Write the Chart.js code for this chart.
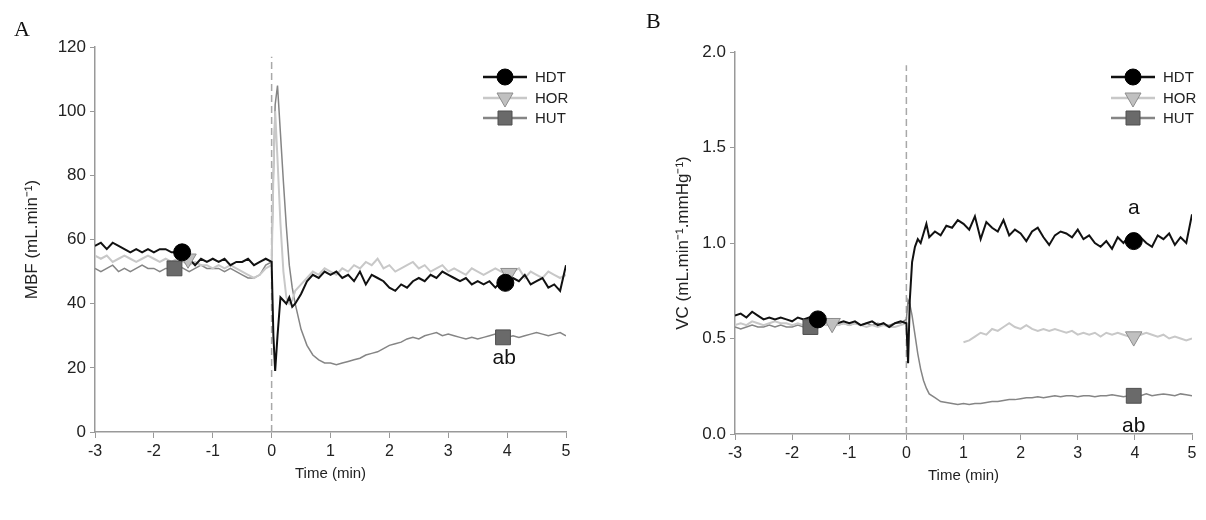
<!DOCTYPE html>
<html>
<head>
<meta charset="utf-8">
<script src="https://cdn.jsdelivr.net/npm/chart.js@4.4.1/dist/chart.umd.min.js"></script>
<style>
body{margin:0;background:#fff;width:1206px;height:520px;position:relative;overflow:hidden;font-family:"Liberation Sans",Arial,sans-serif}
.box{position:absolute;top:0;width:603px;height:520px}
.tag{position:absolute;font-family:"Liberation Serif","Times New Roman",serif;font-size:22px;color:#111}
</style>
</head>
<body>
<div class="box" style="left:0"><canvas id="panelA" width="603" height="520"></canvas></div>
<div class="box" style="left:603px"><canvas id="panelB" width="603" height="520"></canvas></div>
<div class="tag" style="left:14px;top:16px">A</div>
<div class="tag" style="left:646px;top:8px">B</div>
<script>
// time axis (min): 0.1 min steps, finer around the tilt at 0
var time = [
  -3.0,-2.9,-2.8,-2.7,-2.6,-2.5,-2.4,-2.3,-2.2,-2.1,
  -2.0,-1.9,-1.8,-1.7,-1.6,-1.5,-1.4,-1.3,-1.2,-1.1,
  -1.0,-0.9,-0.8,-0.7,-0.6,-0.5,-0.4,-0.3,-0.2,-0.1,
  0.0,0.03,0.06,0.1,0.15,0.2,0.25,0.3,0.35,0.4,
  0.5,0.6,0.7,0.8,0.9,1.0,1.1,1.2,1.3,1.4,
  1.5,1.6,1.7,1.8,1.9,2.0,2.1,2.2,2.3,2.4,
  2.5,2.6,2.7,2.8,2.9,3.0,3.1,3.2,3.3,3.4,
  3.5,3.6,3.7,3.8,3.9,4.0,4.1,4.2,4.3,4.4,
  4.5,4.6,4.7,4.8,4.9,5.0
];
var seriesNames = ["HDT", "HOR", "HUT"];

// Panel A - MBF (mL.min-1)
var mbfHDT = [
  58,59,57,59,58,57,56,57,56,57, 56,57,57,56,56,55,54,52,54,53, 54,53,54,52,53,53,54,52,53,54,
  53,30,19,30,42,41,40,42,39,40,
  43,47,49,48,50,49,50,48,49,47, 50,46,49,48,47,45,44,46,45,47, 48,47,49,48,50,49,48,47,48,46,
  47,46,47,45,47,46,48,47,49,46, 47,48,45,46,44,52
];
var mbfHOR = [
  55,54,55,53,54,55,54,53,54,55, 54,53,54,53,54,53,52,53,52,52, 51,52,51,52,51,50,49,48,49,51,
  52,80,100,85,65,50,42,40,41,44,
  46,48,50,49,51,50,49,51,50,52, 51,53,52,54,51,52,50,51,52,53, 51,52,50,51,52,50,51,50,49,51,
  50,49,50,51,50,49,50,51,48,50, 49,48,50,49,48,49
];
var mbfHUT = [
  51,50,51,52,50,51,50,51,52,51, 51,50,51,51,52,51,50,51,52,51, 51,51,50,51,50,49,48,48,49,52,
  53,80,102,108,93,78,64,52,45,40,
  32,27,24,22.5,21.5,21.5,21,21.5,22,22.5, 23,24,24.5,25,26,27,27.5,28,29,29.5, 29,30,30.5,31,30,30.5,30,29.5,29,29.5,
  29,29.5,30,30.5,30,29.5,30,29.5,30,30.5, 31,30.5,30,30.5,31,30
];
var mbfMarkT = [[-1.52, 3.97], [-1.42, 4.03], [-1.65, 3.93]];
var mbfMarkV = [[56, 46.5], [54, 49.5], [51, 29.5]];
var mbfNotes = [{t: 3.95, v: 23, text: "ab"}];

// Panel B - VC (mL.min-1.mmHg-1)
var vcHDT = [
  0.62,0.63,0.61,0.64,0.62,0.60,0.61,0.60,0.61,0.60, 0.59,0.61,0.60,0.61,0.62,0.60,0.59,0.60,0.58,0.59,
  0.58,0.59,0.57,0.58,0.59,0.57,0.58,0.56,0.58,0.59,
  0.58,0.37,0.70,0.90,0.98,1.02,1.00,1.05,1.10,1.03,
  1.06,1.04,1.09,1.08,1.12,1.10,1.07,1.14,1.02,1.11, 1.08,1.06,1.12,1.04,1.07,1.05,1.01,1.06,1.08,1.03,
  0.99,1.04,1.06,1.05,1.03,1.07,1.02,1.04,1.00,0.98, 1.01,0.97,1.03,1.00,1.04,1.02,1.03,1.00,0.98,1.04,
  1.02,1.05,0.99,1.03,1.00,1.15
];
var vcHOR = [
  0.57,0.58,0.57,0.59,0.58,0.57,0.58,0.59,0.58,0.58, 0.57,0.58,0.57,0.58,0.59,0.58,0.57,0.58,0.57,0.58,
  0.57,0.58,0.57,0.56,0.57,0.56,0.57,0.56,0.56,0.57,
  0.58,null,null,null,null,null,null,null,null,null,
  null,null,null,null,null,0.48,0.49,0.51,0.53,0.52, 0.55,0.54,0.56,0.58,0.56,0.55,0.57,0.55,0.54,0.55,
  0.54,0.55,0.54,0.53,0.54,0.52,0.53,0.52,0.53,0.51, 0.53,0.52,0.53,0.52,0.51,0.51,0.52,0.53,0.52,0.51,
  0.52,0.50,0.51,0.50,0.49,0.50
];
var vcHUT = [
  0.56,0.55,0.56,0.57,0.56,0.56,0.57,0.56,0.57,0.56, 0.56,0.57,0.56,0.57,0.57,0.58,0.57,0.58,0.57,0.58,
  0.57,0.58,0.57,0.58,0.57,0.58,0.57,0.57,0.58,0.58,
  0.60,0.70,0.68,0.62,0.52,0.42,0.34,0.28,0.24,0.21,
  0.19,0.17,0.165,0.16,0.155,0.16,0.155,0.16,0.16,0.165, 0.17,0.17,0.175,0.18,0.18,0.185,0.19,0.19,0.195,0.19,
  0.195,0.20,0.195,0.20,0.20,0.195,0.20,0.20,0.195,0.20, 0.20,0.205,0.20,0.195,0.20,0.205,0.20,0.21,0.20,0.205,
  0.21,0.205,0.20,0.21,0.205,0.20
];
var vcMarkT = [[-1.55, 3.98], [-1.30, 3.98], [-1.68, 3.98]];
var vcMarkV = [[0.60, 1.01], [0.58, 0.51], [0.56, 0.20]];
var vcNotes = [{t: 3.98, v: 1.18, text: "a"}, {t: 3.98, v: 0.04, text: "ab"}];

// look of each group
var lineColors = ["#111111", "#c8c8c8", "#858585"];
var lineWidths = [2, 2, 1.5];
var markFill = ["#000000", "#c0c0c0", "#6a6a6a"];
var markEdge = ["#000000", "#8c8c8c", "#4f4f4f"];
var markStyle = ["circle", "triangle", "rect"];
var markRadius = [8.5, 9.5, 10.5];
var markRot = [0, 180, 0];

function pts(xs, ys) {
  return xs.map(function (x, i) { return {x: x, y: ys[i]}; });
}

function drawMark(ctx, k, x, y) {
  ctx.save();
  ctx.fillStyle = markFill[k];
  ctx.strokeStyle = markEdge[k];
  ctx.lineWidth = 1;
  ctx.beginPath();
  if (k === 0) {
    ctx.arc(x, y, 8, 0, Math.PI * 2);
  } else if (k === 1) {
    ctx.moveTo(x - 8, y - 5);
    ctx.lineTo(x + 8, y - 5);
    ctx.lineTo(x, y + 9);
    ctx.closePath();
  } else {
    ctx.rect(x - 7, y - 7, 14, 14);
  }
  ctx.fill();
  ctx.stroke();
  ctx.restore();
}

// legend (line + marker) and the letters next to the markers
var extras = {
  id: "extras",
  afterDatasetsDraw: function (chart, args, opts) {
    var ctx = chart.ctx;
    var xs = chart.scales.x, ys = chart.scales.y;
    ctx.save();
    ctx.font = "21px 'Liberation Sans', Arial, sans-serif";
    ctx.fillStyle = "#111";
    ctx.textAlign = "center";
    ctx.textBaseline = "middle";
    opts.notes.forEach(function (n) {
      ctx.fillText(n.text, xs.getPixelForValue(n.t), ys.getPixelForValue(n.v));
    });
    var cx = chart.chartArea.right - opts.legendOffset;
    var rows = [77, 98, 118];
    ctx.font = "15px 'Liberation Sans', Arial, sans-serif";
    ctx.textAlign = "left";
    seriesNames.forEach(function (name, k) {
      ctx.strokeStyle = lineColors[k];
      ctx.lineWidth = 2.5;
      ctx.beginPath();
      ctx.moveTo(cx - 22, rows[k]);
      ctx.lineTo(cx + 22, rows[k]);
      ctx.stroke();
      drawMark(ctx, k, cx, rows[k]);
      ctx.fillStyle = "#222";
      ctx.fillText(name, cx + 30, rows[k] + 1);
    });
    ctx.restore();
  }
};

function makePanel(id, cfg) {
  var datasets = [];
  // markers first so they sit on top
  seriesNames.forEach(function (name, k) {
    datasets.push({
      label: name + " mark",
      data: pts(cfg.markT[k], cfg.markV[k]),
      showLine: false,
      pointStyle: markStyle[k],
      pointRadius: markRadius[k],
      pointRotation: markRot[k],
      pointBackgroundColor: markFill[k],
      pointBorderColor: markEdge[k],
      pointBorderWidth: 1
    });
  });
  seriesNames.forEach(function (name, k) {
    datasets.push({
      label: name,
      data: pts(time, cfg.series[k]),
      borderColor: lineColors[k],
      borderWidth: lineWidths[k],
      pointRadius: 0,
      tension: 0
    });
  });
  datasets.push({
    label: "tilt",
    data: [{x: 0, y: 0}, {x: 0, y: cfg.dashTop}],
    borderColor: "#a8a8a8",
    borderWidth: 1.5,
    borderDash: [7, 4],
    pointRadius: 0
  });

  return new Chart(document.getElementById(id), {
    type: "line",
    data: {datasets: datasets},
    options: {
      responsive: false,
      animation: false,
      layout: {padding: cfg.padding},
      plugins: {
        legend: {display: false},
        tooltip: {enabled: false},
        extras: {notes: cfg.notes, legendOffset: cfg.legendOffset}
      },
      scales: {
        x: {
          type: "linear",
          min: -3, max: 5,
          ticks: {stepSize: 1, color: "#222", font: {size: 16}, padding: 4},
          grid: {drawOnChartArea: false, drawTicks: true, tickLength: 6, color: "#999"},
          border: {color: "#999", width: 1.5},
          title: {display: true, text: "Time (min)", color: "#222", font: {size: 15}, padding: {top: 2}},
          afterFit: function (s) { s.height = 55; }
        },
        y: {
          min: 0, max: cfg.yMax,
          ticks: {stepSize: cfg.yStep, color: "#222", font: {size: 17}, padding: 4,
            callback: cfg.yFmt},
          grid: {drawOnChartArea: false, drawTicks: true, tickLength: 5, color: "#999"},
          border: {color: "#999", width: 1.5},
          title: {display: true, text: cfg.yTitle, color: "#222", font: {size: 17}},
          afterFit: function (s) { s.width = cfg.yWidth; }
        }
      }
    },
    plugins: [extras]
  });
}

makePanel("panelA", {
  series: [mbfHDT, mbfHOR, mbfHUT],
  markT: mbfMarkT, markV: mbfMarkV, notes: mbfNotes,
  yMax: 120, yStep: 20, yFmt: function (v) { return v; },
  yTitle: "MBF (mL.min\u207B\u00B9)",
  yWidth: 77, padding: {left: 18, right: 37, top: 47, bottom: 33},
  dashTop: 117, legendOffset: 61
});

makePanel("panelB", {
  series: [vcHDT, vcHOR, vcHUT],
  markT: vcMarkT, markV: vcMarkV, notes: vcNotes,
  yMax: 2.0, yStep: 0.5, yFmt: function (v) { return v.toFixed(1); },
  yTitle: "VC (mL.min\u207B\u00B9.mmHg\u207B\u00B9)",
  yWidth: 66, padding: {left: 66, right: 14, top: 52, bottom: 31},
  dashTop: 1.93, legendOffset: 59
});
</script>
</body>
</html>
